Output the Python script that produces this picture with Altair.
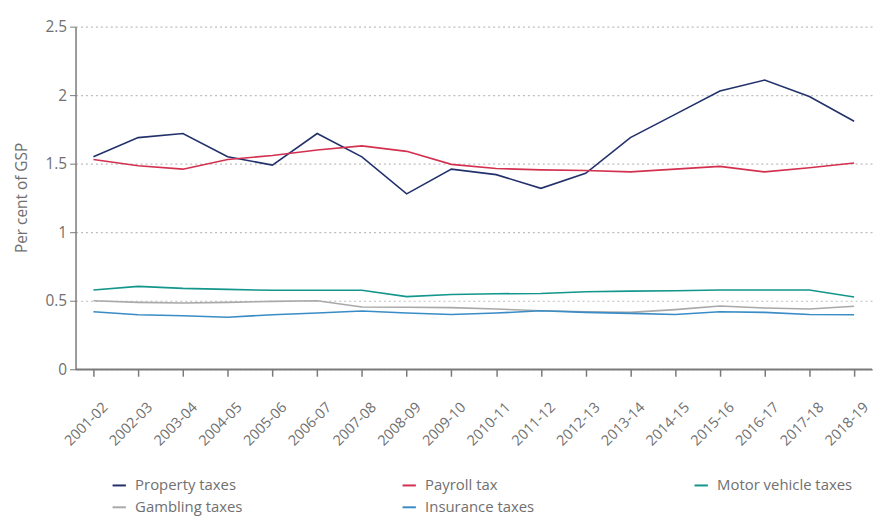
import altair as alt
import pandas as pd

years = ["2001-02", "2002-03", "2003-04", "2004-05", "2005-06", "2006-07",
         "2007-08", "2008-09", "2009-10", "2010-11", "2011-12", "2012-13",
         "2013-14", "2014-15", "2015-16", "2016-17", "2017-18", "2018-19"]

property_taxes = [1.55, 1.69, 1.72, 1.55, 1.49, 1.72, 1.55, 1.28, 1.46, 1.42,
                  1.32, 1.43, 1.69, 1.86, 2.03, 2.11, 1.99, 1.81]
payroll_tax = [1.53, 1.485, 1.46, 1.53, 1.56, 1.60, 1.63, 1.59, 1.495, 1.465,
               1.455, 1.45, 1.44, 1.46, 1.48, 1.44, 1.47, 1.505]
motor_vehicle = [0.578, 0.605, 0.59, 0.583, 0.576, 0.576, 0.576, 0.53, 0.545, 0.551,
                 0.553, 0.565, 0.57, 0.573, 0.578, 0.578, 0.578, 0.527]
gambling = [0.50, 0.488, 0.483, 0.488, 0.495, 0.50, 0.454, 0.452, 0.45, 0.44,
            0.427, 0.42, 0.415, 0.435, 0.461, 0.447, 0.44, 0.46]
insurance = [0.42, 0.398, 0.39, 0.38, 0.398, 0.41, 0.425, 0.41, 0.40, 0.41,
             0.427, 0.415, 0.408, 0.40, 0.42, 0.415, 0.40, 0.398]

series_names = ["Property taxes", "Payroll tax", "Motor vehicle taxes",
                "Gambling taxes", "Insurance taxes"]
series_colors = ["#22316c", "#d3304f", "#13968b", "#a9a9a9", "#3a8cc6"]
series_values = [property_taxes, payroll_tax, motor_vehicle, gambling, insurance]

# legend fills column by column: order so rows read as in the reference
legend_order = ["Property taxes", "Gambling taxes", "Payroll tax",
                "Insurance taxes", "Motor vehicle taxes"]
legend_colors = [series_colors[series_names.index(n)] for n in legend_order]

rows = []
for name, vals in zip(series_names, series_values):
    for y, v in zip(years, vals):
        rows.append({"Year": y, "Series": name, "Value": v})
df = pd.DataFrame(rows)

FONT = "Open Sans"
GREY = "#707070"
AXIS = "#7a7a7a"

lines = alt.Chart(df).mark_line(strokeWidth=1.6).encode(
    x=alt.X("Year:N", sort=years, title=None,
            scale=alt.Scale(type="point", padding=0.40),
            axis=alt.Axis(labelAngle=-45, labelAlign="right", labelBaseline="top",
                          labelFont=FONT, labelFontSize=14.5,
                          labelColor=GREY, domainColor=AXIS, domainWidth=1.5,
                          tickColor=AXIS, tickWidth=1.5, tickSize=7,
                          labelPadding=24, labelOffset=7, grid=False)),
    y=alt.Y("Value:Q", title="Per cent of GSP",
            scale=alt.Scale(domain=[0, 2.5], nice=False),
            axis=alt.Axis(values=[0, 0.5, 1, 1.5, 2, 2.5], format="~g",
                          labelFont=FONT, labelFontSize=15.5, labelColor=GREY,
                          titleFont=FONT, titleFontSize=15.5, titleColor=GREY,
                          titleFontWeight="normal", titleX=-54, titleY=172,
                          titleBaseline="middle",
                          domainColor=AXIS, domainWidth=1.5,
                          tickColor=AXIS, tickSize=6, labelPadding=3,
                          grid=True, gridColor="#bdbdbd", gridDash=[2, 3],
                          gridWidth=1.2)),
    color=alt.Color("Series:N", sort=legend_order,
                    scale=alt.Scale(domain=legend_order, range=legend_colors),
                    legend=alt.Legend(title=None, orient="none", legendX=36,
                                      legendY=454, columns=3, columnPadding=156,
                                      rowPadding=6, symbolType="stroke",
                                      symbolSize=180, symbolStrokeWidth=2,
                                      labelFont=FONT, labelFontSize=15,
                                      labelColor=GREY, labelOffset=8)),
)

zero_line = alt.Chart(pd.DataFrame({"v": [0]})).mark_rule(color=AXIS, strokeWidth=1.5).encode(
    y=alt.Y("v:Q", scale=alt.Scale(domain=[0, 2.5], nice=False))
)

chart = alt.layer(zero_line, lines).properties(
    width=802, height=345,
    autosize=alt.AutoSizeParams(type="none"),
    padding={"left": 68, "top": 17, "right": 2, "bottom": 146},
).configure_view(stroke=None)

chart.save("out.html", embed_options={"renderer": "svg", "actions": False})
